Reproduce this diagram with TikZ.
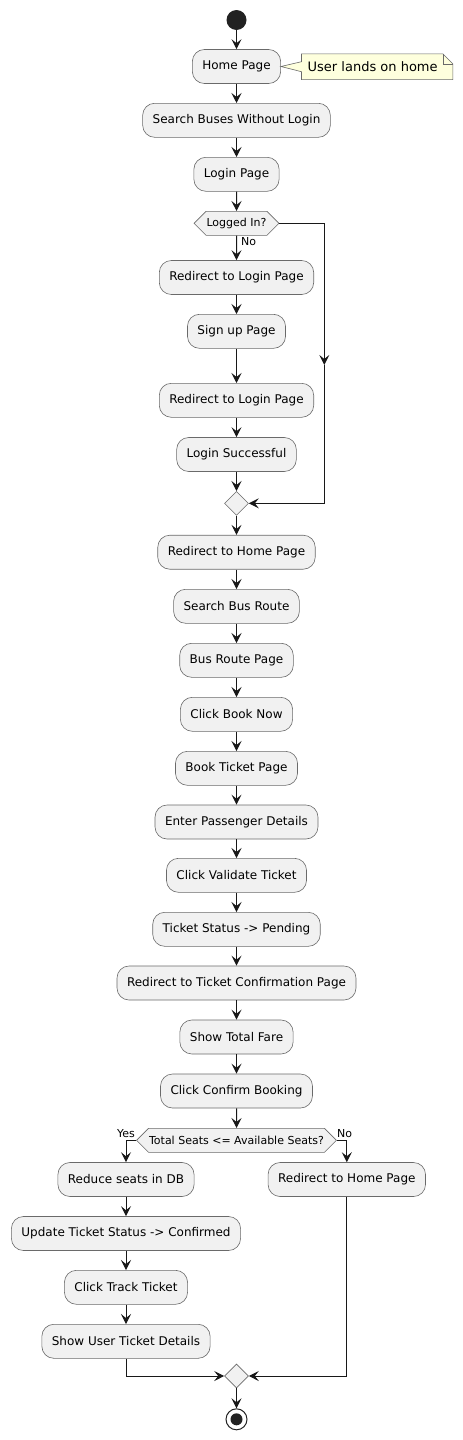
\documentclass[tikz,border=0pt]{standalone}
\usepackage{fontspec}
\setmainfont{DejaVu Sans}
\usetikzlibrary{shapes.symbols,shapes.geometric,arrows.meta}
\definecolor{boxfill}{HTML}{F1F1F1}
\definecolor{ink}{HTML}{181818}
\definecolor{border}{HTML}{6A6A6A}
\definecolor{notefill}{HTML}{FEFFDD}
\definecolor{dot}{HTML}{222222}
\begin{document}
\begin{tikzpicture}[x=1pt,y=-1pt,
  act/.style={draw=border, line width=0.6pt, fill=boxfill, rounded corners=12pt, minimum height=34pt, inner xsep=10pt, inner ysep=0pt, font=\fontsize{12}{14}\selectfont},
  hex/.style={draw=border, line width=0.6pt, fill=boxfill, shape=signal, signal to=west and east, minimum height=24pt, inner xsep=0.5pt, inner ysep=0pt, font=\fontsize{11}{13}\selectfont},
  merge/.style={draw=border, line width=0.6pt, fill=boxfill, shape=diamond, minimum width=24pt, minimum height=24pt, inner sep=0pt},
  arr/.style={draw=ink, line width=1pt, -{Stealth[length=10pt,width=10pt,inset=4pt]}},
  lbl/.style={font=\fontsize{11}{13}\selectfont, inner sep=0pt}]
\useasboundingbox (0,0) rectangle (463,1440);
\fill[white] (0,0) rectangle (463,1440);

\node[circle, fill=dot, minimum size=20pt, inner sep=0pt] (start) at (236.5,20) {};
\node[act] (home) at (236.5,66.5) {Home Page};
\node[act] (search) at (236.5,120.3) {Search Buses Without Login};
\node[act] (login) at (236.5,174.3) {Login Page};
\node[hex] (logged) at (236.5,223.3) {Logged In?};
\node[act] (redir1) at (236.5,277.5) {Redirect to Login Page};
\node[act] (signup) at (236.5,331.3) {Sign up Page};
\node[act] (redir2) at (236.5,400.3) {Redirect to Login Page};
\node[act] (lsucc) at (236.5,454.5) {Login Successful};
\node[merge] (merge1) at (236.5,503.3) {};
\node[act] (rhome) at (236.5,552.2) {Redirect to Home Page};
\node[act] (sroute) at (236.5,606.3) {Search Bus Route};
\node[act] (broute) at (236.5,660.3) {Bus Route Page};
\node[act] (booknow) at (236.5,714.3) {Click Book Now};
\node[act] (bticket) at (236.5,768.3) {Book Ticket Page};
\node[act] (epass) at (236.5,822) {Enter Passenger Details};
\node[act] (valid) at (236.5,875.3) {Click Validate Ticket};
\node[act] (pend) at (236.5,929.3) {Ticket Status -> Pending};
\node[act] (rconf) at (236.5,983) {Redirect to Ticket Confirmation Page};
\node[act] (fare) at (236.5,1037) {Show Total Fare};
\node[act] (confirm) at (236.5,1091) {Click Confirm Booking};
\node[hex] (seats) at (236.5,1140.3) {Total Seats <= Available Seats?};
\node[act] (reduce) at (126,1179.5) {Reduce seats in DB};
\node[act] (rhome2) at (346.8,1179.5) {Redirect to Home Page};
\node[act] (update) at (126,1233.5) {Update Ticket Status -> Confirmed};
\node[act] (track) at (126,1287.3) {Click Track Ticket};
\node[act] (showu) at (126,1341.3) {Show User Ticket Details};
\node[merge] (merge2) at (236.5,1376) {};
\node[circle, draw=dot, line width=1pt, fill=white, minimum size=21pt, inner sep=0pt] (end) at (236.5,1419.3) {};
\node[circle, fill=dot, minimum size=12pt, inner sep=0pt] (endin) at (end.center) {};

% note
\node[inner sep=0pt, minimum width=151pt, minimum height=25.3pt, font=\fontsize{13}{15}\selectfont] (note) at (377.2,66.7) {};
\coordinate (tailtop) at ([yshift=5pt]note.west);
\coordinate (tailbot) at ([yshift=-5pt]note.west);
\filldraw[fill=notefill, draw=border, line width=0.6pt]
  (note.north west) -- ([xshift=-10pt]note.north east) -- ([yshift=-10pt]note.north east)
  -- (note.south east) -- (note.south west) -- (tailbot) -- (home.east) -- (tailtop) -- cycle;
\draw[border, line width=0.6pt] ([xshift=-10pt]note.north east) -- ([xshift=-10pt,yshift=-10pt]note.north east) -- ([yshift=-10pt]note.north east);
\node[font=\fontsize{13}{15}\selectfont, inner sep=0pt, anchor=west] (notetext) at ([xshift=6pt]note.west) {User lands on home};

% connectors
\draw[arr] (start) -- (home);
\draw[arr] (home) -- (search);
\draw[arr] (search) -- (login);
\draw[arr] (login) -- (logged);
\draw[arr] (logged) -- (redir1);
\node[lbl, anchor=west] (nolbl1) at (241,242) {No};
\draw[arr] (redir1) -- (signup);
\draw[arr] (signup) -- (redir2);
\draw[arr] (redir2) -- (lsucc);
\draw[arr] (lsucc) -- (merge1);
\coordinate (mid1) at (324.3,365);
\draw[arr] (logged.east) -| (mid1);
\draw[arr] (mid1) |- (merge1.east);
\draw[arr] (merge1) -- (rhome);
\draw[arr] (rhome) -- (sroute);
\draw[arr] (sroute) -- (broute);
\draw[arr] (broute) -- (booknow);
\draw[arr] (booknow) -- (bticket);
\draw[arr] (bticket) -- (epass);
\draw[arr] (epass) -- (valid);
\draw[arr] (valid) -- (pend);
\draw[arr] (pend) -- (rconf);
\draw[arr] (rconf) -- (fare);
\draw[arr] (fare) -- (confirm);
\draw[arr] (confirm) -- (seats);
\draw[arr] (seats.west) -| (reduce.north);
\draw[arr] (seats.east) -| (rhome2.north);
\node[lbl] (yeslbl) at (126,1133.5) {Yes};
\node[lbl] (nolbl2) at (344.5,1133.5) {No};
\draw[arr] (reduce) -- (update);
\draw[arr] (update) -- (track);
\draw[arr] (track) -- (showu);
\draw[arr] (showu.south) |- (merge2.west);
\draw[arr] (rhome2.south) |- (merge2.east);
\draw[arr] (merge2) -- (end);
\end{tikzpicture}
\end{document}
